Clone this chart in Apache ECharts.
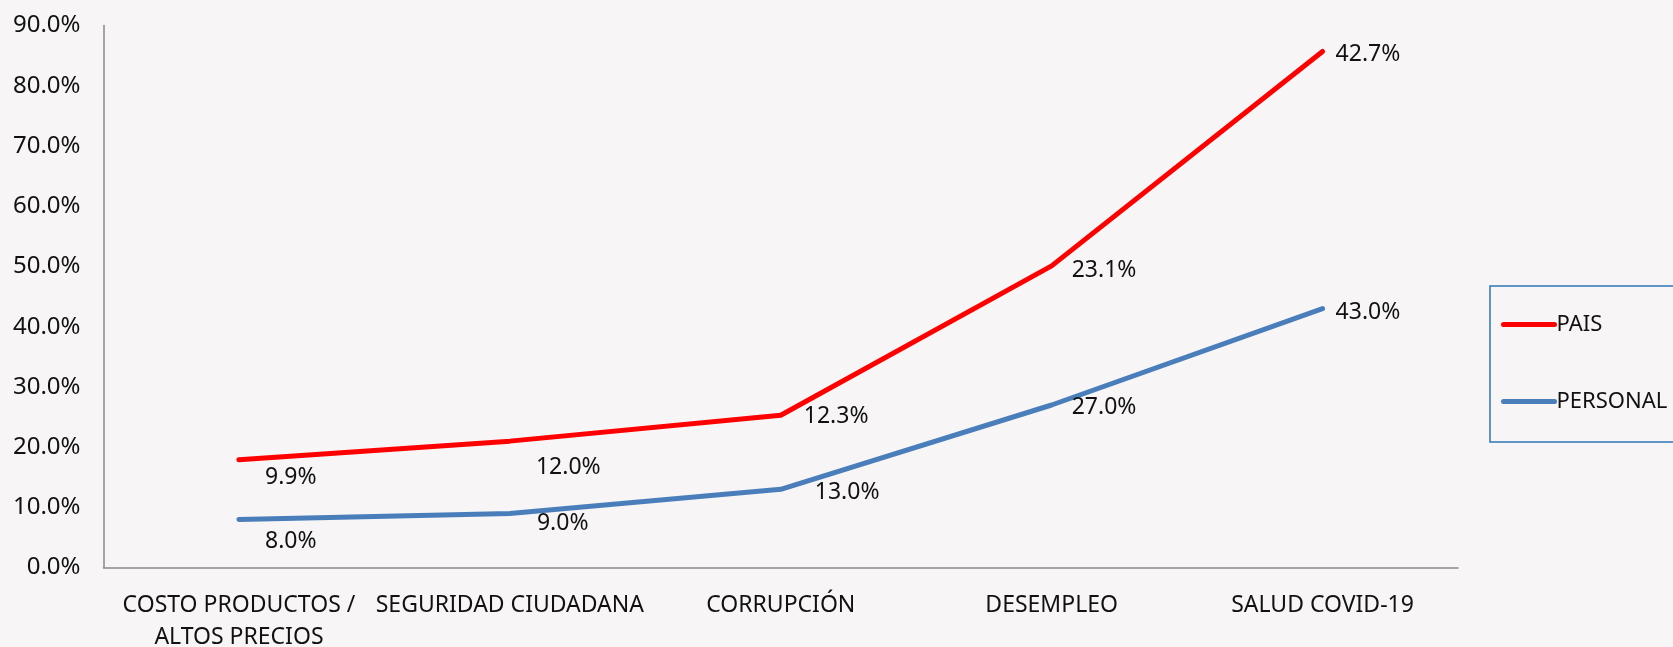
<!DOCTYPE html>
<html>
<head>
<meta charset="utf-8">
<script src="https://cdn.jsdelivr.net/npm/echarts@6/dist/echarts.min.js"></script>
<style>
  html, body { margin: 0; padding: 0; background: #f7f5f6; }
  #container { width: 1673px; height: 647px; }
</style>
</head>
<body>
<div id="container"></div>
<script>
// categorias y valores (%)
var categories = ['COSTO PRODUCTOS /\nALTOS PRECIOS', 'SEGURIDAD CIUDADANA', 'CORRUPCIÓN', 'DESEMPLEO', 'SALUD COVID-19'];
var personal = [8.0, 9.0, 13.0, 27.0, 43.0];
var pais = [9.9, 12.0, 12.3, 23.1, 42.7];
var yTicks = { min: 0, max: 90, interval: 10 };

// posicion de las etiquetas (estilo, no datos)
var paisLabelOffsets = [[26, 18], [26, 26], [23, 1], [20, 5], [13, 3]];
var personalLabelOffsets = [[26, 22], [27, 10], [34, 3], [20, 2], [13, 4]];

var font = '"Noto Sans", sans-serif';

var withLabels = function (values, offsets) {
    return values.map(function (v, i) {
        return {
            value: v,
            label: { offset: offsets[i] }
        };
    });
};

var labelStyle = {
    show: true,
    position: 'right',
    distance: 0,
    fontFamily: font,
    fontSize: 23,
    color: '#111',
    formatter: function (p) { return p.value.toFixed(1) + '%'; }
};

var myChart = echarts.init(document.getElementById('container'));

var option = {
    backgroundColor: '#f7f5f6',
    animation: false,
    grid: {
        left: 103.5,
        right: 215,
        top: 25.6,
        bottom: 79.4,
        outerBoundsMode: 'none',
        containLabel: false
    },
    legend: {
        orient: 'vertical',
        left: 1490,
        top: 286,
        data: ['PAIS', 'PERSONAL'],
        padding: [27.5, 60, 29.5, 11],
        itemGap: 55,
        itemWidth: 51,
        itemHeight: 14,
        borderColor: '#2e75b6',
        borderWidth: 1.5,
        itemStyle: { opacity: 0 },
        lineStyle: { width: 5, cap: 'round' },
        textStyle: { fontFamily: font, fontSize: 22, color: '#111', padding: [0, 0, 0, -3] }
    },
    xAxis: {
        type: 'category',
        data: categories,
        boundaryGap: true,
        axisLine: { lineStyle: { color: '#898989', width: 1.5 } },
        axisTick: { show: false },
        axisLabel: {
            interval: 0,
            margin: 22,
            fontFamily: font,
            fontSize: 23,
            lineHeight: 32,
            color: '#111'
        }
    },
    yAxis: {
        type: 'value',
        min: yTicks.min,
        max: yTicks.max,
        interval: yTicks.interval,
        splitLine: { show: false },
        axisLine: { show: true, lineStyle: { color: '#898989', width: 1.5 } },
        axisTick: { show: false },
        axisLabel: {
            margin: 23,
            fontFamily: font,
            fontSize: 24,
            color: '#111',
            formatter: function (v) { return v.toFixed(1) + '%'; }
        }
    },
    series: [
        {
            name: 'PERSONAL',
            type: 'line',
            stack: 'total',
            symbol: 'circle',
            symbolSize: 0.1,
            showSymbol: true,
            color: '#4a7ebb',
            lineStyle: { width: 5, color: '#4a7ebb', cap: 'round', join: 'round' },
            label: labelStyle,
            data: withLabels(personal, personalLabelOffsets)
        },
        {
            name: 'PAIS',
            type: 'line',
            stack: 'total',
            symbol: 'circle',
            symbolSize: 0.1,
            showSymbol: true,
            color: '#ff0000',
            lineStyle: { width: 5, color: '#ff0000', cap: 'round', join: 'round' },
            label: labelStyle,
            data: withLabels(pais, paisLabelOffsets)
        }
    ]
};

myChart.setOption(option);
</script>
</body>
</html>
